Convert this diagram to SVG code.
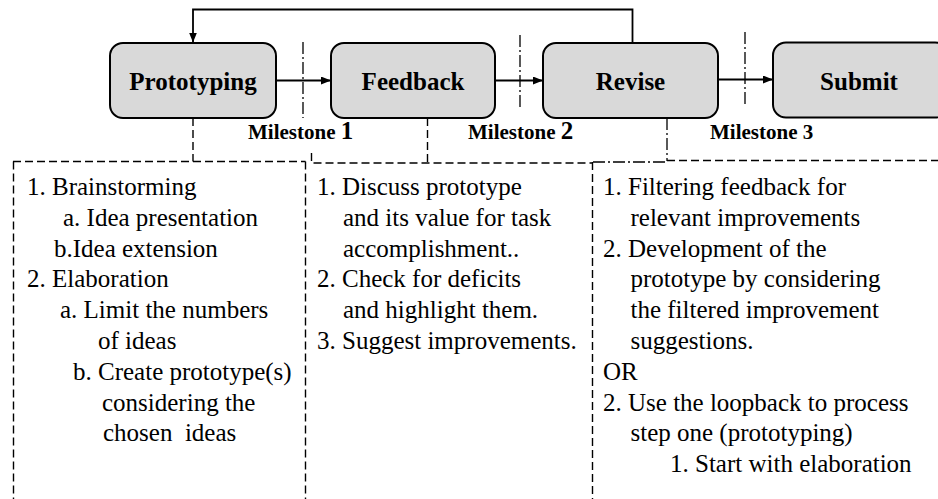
<svg xmlns="http://www.w3.org/2000/svg" width="938" height="499" viewBox="0 0 938 499">
  <style>
    .step { fill: #d9d9d9; stroke: #000; stroke-width: 2; }
    .label { font-family: 'Liberation Serif', 'DejaVu Serif', serif; font-weight: bold; font-size: 25px; fill: #000; text-anchor: middle; }
    .ms { font-family: 'Liberation Serif', 'DejaVu Serif', serif; font-weight: bold; font-size: 21px; fill: #000; }
    .body { font-family: 'Liberation Serif', 'DejaVu Serif', serif; font-size: 25px; fill: #000; }
    .flow { stroke: #000; stroke-width: 1.8; fill: none; }
    .dash { stroke: #000; stroke-width: 1.4; fill: none; stroke-dasharray: 8 4; }
    .dashdot { stroke: #000; stroke-width: 1.3; fill: none; stroke-dasharray: 12 3 2 3; }
  </style>
  <defs>
    <marker id="arrow" viewBox="0 0 10 8" refX="10" refY="4" markerWidth="10" markerHeight="8" markerUnits="userSpaceOnUse" orient="auto">
      <path d="M0,0 L10,4 L0,8 Z" fill="#000"/>
    </marker>
  </defs>

  <!-- process steps -->
  <g id="prototyping">
    <rect class="step" x="110" y="43" width="166" height="75" rx="13" ry="13"/>
    <text class="label" x="193" y="90">Prototyping</text>
  </g>
  <g id="feedback">
    <rect class="step" x="331" y="43" width="164" height="75" rx="13" ry="13"/>
    <text class="label" x="413" y="90">Feedback</text>
  </g>
  <g id="revise">
    <rect class="step" x="543" y="43" width="175" height="75" rx="13" ry="13"/>
    <text class="label" x="630.5" y="89.5">Revise</text>
  </g>
  <g id="submit">
    <rect class="step" x="773" y="42.5" width="175" height="75" rx="13" ry="13"/>
    <text class="label" x="859" y="89.5">Submit</text>
  </g>

  <!-- connectors -->
  <g id="connectors">
    <path class="flow" d="M276,80.5 H331" marker-end="url(#arrow)"/>
    <path class="flow" d="M495,80.5 H543" marker-end="url(#arrow)"/>
    <path class="flow" d="M718,79.5 H773" marker-end="url(#arrow)"/>
    <path class="flow" d="M632.5,43 V9.5 H193 V42.5" marker-end="url(#arrow)"/>

    <!-- milestone separators -->
    <path class="dashdot" d="M303,42 V118"/>
    <path class="dashdot" d="M520,35 V110"/>
    <path class="dashdot" d="M745,32 V107"/>

    <!-- links from steps to their task columns -->
    <path class="dash" d="M193,118 V161.5"/>
    <path class="dash" d="M427.5,118 V162.5"/>
    <path class="dashdot" d="M667,118 V161"/>
    <path class="dash" d="M13,161.5 H305.5"/>
    <path class="dash" d="M311.5,153 V163 H593"/>
    <path class="dashdot" d="M593,162 H667"/>
    <path class="dash" d="M667,160.5 H938"/>
    <path class="dash" d="M13.5,161.5 V499"/>
    <path class="dash" d="M305.5,161.5 V499"/>
    <path class="dash" d="M592.5,162 V499"/>
  </g>

  <!-- milestone labels -->
  <g id="milestones">
    <text class="ms" x="248" y="139">Milestone <tspan font-size="25px">1</tspan></text>
    <text class="ms" x="468" y="139">Milestone <tspan font-size="25px">2</tspan></text>
    <text class="ms" x="710" y="139">Milestone 3</text>
  </g>

  <!-- task lists -->
  <g id="prototyping-tasks">
    <text class="body" x="27" y="195">1. Brainstorming</text>
    <text class="body" x="63" y="225.8">a. Idea presentation</text>
    <text class="body" x="54" y="256.6">b.Idea extension</text>
    <text class="body" x="27" y="287.4">2. Elaboration</text>
    <text class="body" x="60" y="318.2">a. Limit the numbers</text>
    <text class="body" x="98" y="349">of ideas</text>
    <text class="body" x="73" y="379.8">b. Create prototype(s)</text>
    <text class="body" x="102" y="410.6">considering the</text>
    <text class="body" x="103" y="441.4" xml:space="preserve">chosen  ideas</text>
  </g>
  <g id="feedback-tasks">
    <text class="body" x="317" y="195">1. Discuss prototype</text>
    <text class="body" x="343" y="225.8">and its value for task</text>
    <text class="body" x="343" y="256.6">accomplishment..</text>
    <text class="body" x="317" y="287.4">2. Check for deficits</text>
    <text class="body" x="343" y="318.2">and highlight them.</text>
    <text class="body" x="317" y="349">3. Suggest improvements.</text>
  </g>
  <g id="revise-tasks">
    <text class="body" x="603" y="195">1. Filtering feedback for</text>
    <text class="body" x="630.5" y="225.8">relevant improvements</text>
    <text class="body" x="603" y="256.6">2. Development of the</text>
    <text class="body" x="630.5" y="287.4">prototype by considering</text>
    <text class="body" x="630.5" y="318.2">the filtered improvement</text>
    <text class="body" x="630.5" y="349">suggestions.</text>
    <text class="body" x="603" y="379.8">OR</text>
    <text class="body" x="603" y="410.6">2. Use the loopback to process</text>
    <text class="body" x="630.5" y="441.4">step one (prototyping)</text>
    <text class="body" x="670" y="472.2">1. Start with elaboration</text>
  </g>
</svg>
